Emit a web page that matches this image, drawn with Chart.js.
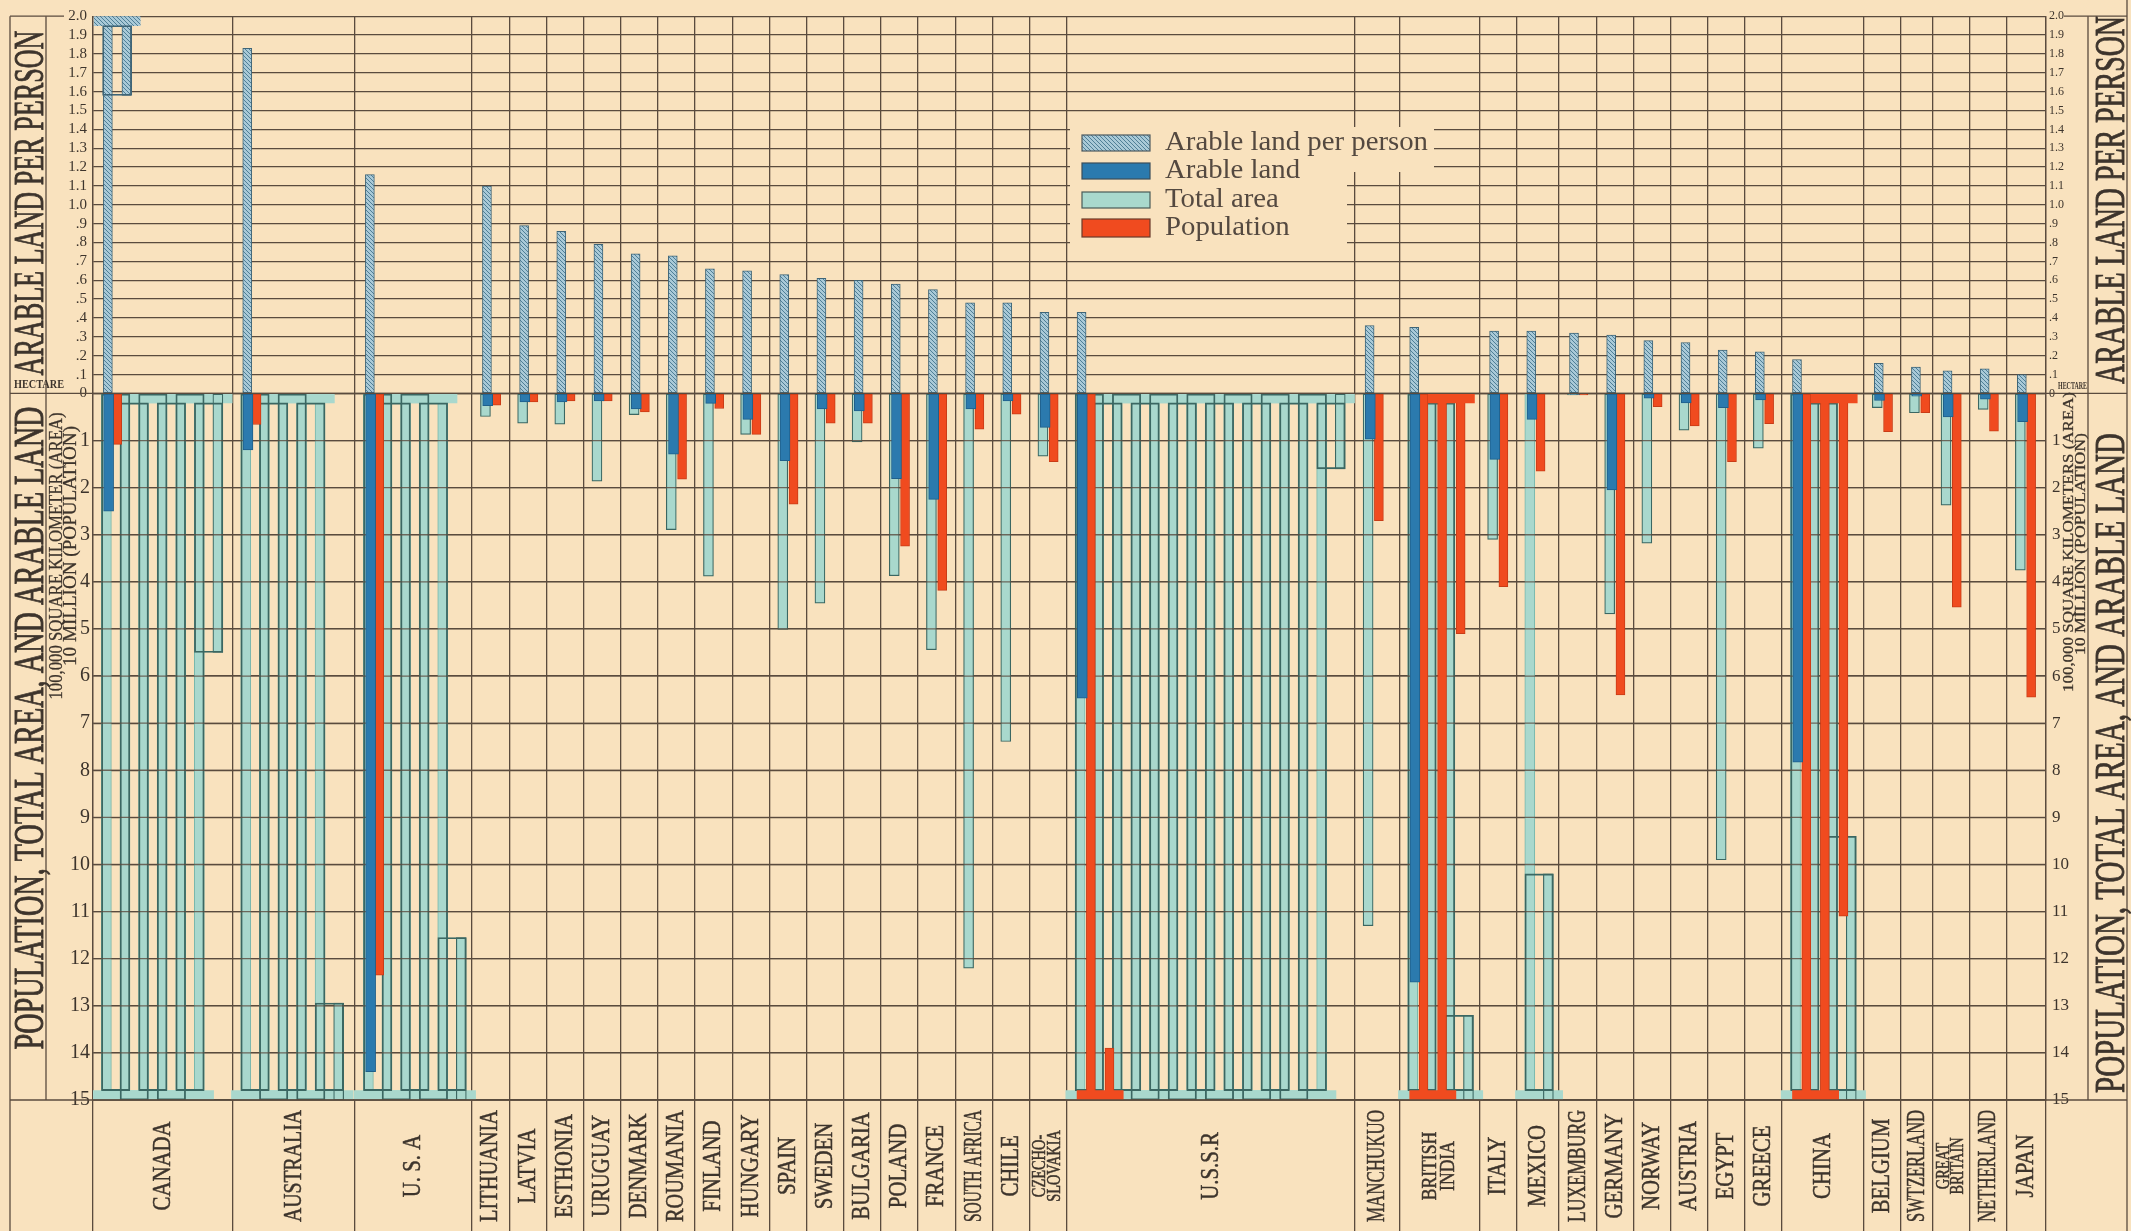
<!DOCTYPE html>
<html>
<head>
<meta charset="utf-8">
<title>Arable land per person, total area, arable land and population</title>
<script src="https://cdn.jsdelivr.net/npm/chart.js@4.4.1/dist/chart.umd.min.js"></script>
<style>
  html, body { margin: 0; padding: 0; background: #f9e2be; }
  #wrap { width: 2131px; height: 1231px; }
</style>
</head>
<body>
<div id="wrap"><canvas id="chart" width="2131" height="1231"></canvas></div>
<script>
'use strict';

// countries, left to right
let countries = [
    'CANADA', 'AUSTRALIA', 'U. S. A',
    'LITHUANIA', 'LATVIA', 'ESTHONIA', 'URUGUAY', 'DENMARK', 'ROUMANIA', 'FINLAND', 'HUNGARY',
    'SPAIN', 'SWEDEN', 'BULGARIA', 'POLAND', 'FRANCE', 'SOUTH AFRICA', 'CHILE', ['CZECHO-', 'SLOVAKIA'],
    'U.S.S.R', 'MANCHUKUO', ['BRITISH', 'INDIA'], 'ITALY', 'MEXICO', 'LUXEMBURG', 'GERMANY',
    'NORWAY', 'AUSTRIA', 'EGYPT', 'GREECE', 'CHINA', 'BELGIUM', 'SWTZERLAND', ['GREAT', 'BRITAIN'],
    'NETHERLAND', 'JAPAN'
];

// hectare per person
let arablePerPerson = [
    2.42, 1.83, 1.16,
    1.10, 0.89, 0.86, 0.79, 0.74, 0.73, 0.66, 0.65, 0.63, 0.61, 0.60, 0.58, 0.55, 0.48, 0.48, 0.43,
    0.43, 0.36, 0.35, 0.33, 0.33, 0.32, 0.31, 0.28, 0.27, 0.23, 0.22, 0.18, 0.16, 0.14, 0.12, 0.13, 0.10
];

// 100,000 square kilometers
let arableLand = [
    2.5, 1.2, 14.4,
    0.26, 0.18, 0.18, 0.16, 0.33, 1.29, 0.21, 0.55, 1.43, 0.33, 0.37, 1.81, 2.25, 0.33, 0.16, 0.72,
    6.47, 0.97, 12.5, 1.4, 0.55, 0.02, 2.05, 0.1, 0.2, 0.3, 0.14, 7.83, 0.15, 0.06, 0.5, 0.12, 0.6
];

// 100,000 square kilometers
let totalArea = [
    95.5, 77.06, 78.45,
    0.49, 0.63, 0.65, 1.86, 0.45, 2.89, 3.88, 0.87, 5.01, 4.45, 1.03, 3.87, 5.44, 12.2, 7.39, 1.33,
    211.6, 11.3, 46.8, 3.1, 19.8, 0.03, 4.68, 3.18, 0.78, 9.9, 1.16, 50.6, 0.3, 0.41, 2.37, 0.34, 3.75
];

// 10 million people
let population = [
    1.08, 0.66, 12.35,
    0.25, 0.18, 0.16, 0.16, 0.39, 1.82, 0.32, 0.87, 2.35, 0.63, 0.63, 3.24, 4.18, 0.76, 0.44, 1.45,
    16.1, 2.7, 35.1, 4.1, 1.65, 0.03, 6.4, 0.28, 0.69, 1.45, 0.64, 41.1, 0.81, 0.41, 4.54, 0.8, 6.45
];

// ---- layout -------------------------------------------------------------

// width of each country's column (one small country = 1)
let columnSpans = [
    3.75, 3.3, 3.15,
    1, 1, 1, 1, 1, 1, 1, 1, 1, 1, 1, 1, 1, 1, 1, 1,
    7.75, 1.2, 2.15, 1, 1.15, 1, 1, 1, 1, 1, 1, 2.2, 1, 0.85, 1, 1, 1.05
];

const FOLD = 15;      // lower scale turns back every 15 units
const TOP = 2.0;      // upper scale turns back at 2 hectare

const PAPER = '#f9e2be';
const GRID = '#5a4b3e';
const INK = '#3d342c';
const SERIF = '"Liberation Serif", "DejaVu Serif", serif';
const BLUE = '#2b7aae';
const TEAL = '#a9d8cd';
const RED = '#f04b1f';

let starts = [];
let total = 0;
for (let i = 0; i < columnSpans.length; i++) {
    starts.push(total);
    total += columnSpans[i];
}
let bounds = starts.concat([total]);
const HALF = (2046 - 93) / total / 2;   // pixel step between two folds

let ctx = document.getElementById('chart').getContext('2d');

function makeHatch(c) {
    let tile = document.createElement('canvas');
    tile.width = 4; tile.height = 4;
    let g = tile.getContext('2d');
    g.fillStyle = '#a9c9d7';
    g.fillRect(0, 0, 4, 4);
    g.strokeStyle = '#4f7f96';
    g.lineWidth = 1;
    g.beginPath();
    g.moveTo(-1, -1); g.lineTo(5, 5);
    g.moveTo(-1, 3); g.lineTo(1, 5);
    g.moveTo(3, -1); g.lineTo(5, 1);
    g.stroke();
    return c.createPattern(tile, 'repeat');
}
let hatch = makeHatch(ctx);

// split a value into folds of `limit`, alternating direction
function folds(value, limit) {
    let parts = [];
    let rest = value;
    let i = 0;
    while (rest > 1e-6) {
        let len = Math.min(limit, rest);
        parts.push(i % 2 === 0 ? [0, len] : [limit - len, limit]);
        rest -= len;
        i++;
    }
    return parts;
}

// strips, turning pieces and the gaps between strips
function snake(values, offset, limit, cap) {
    let out = { strips: [], ends: [], joints: [], gaps: [] };
    values.forEach(function (v, k) {
        let parts = folds(v, limit);
        let x0 = starts[k] + offset;
        parts.forEach(function (p, i) {
            let pt = { x: x0 + 0.5 * i, y: p };
            let last = i === parts.length - 1;
            if (last && (parts.length === 1 || p[1] - p[0] < limit)) {
                out.ends.push(pt);
            } else {
                out.strips.push(pt);
            }
            if (!last) {
                let far = i % 2 === 0;
                out.joints.push({ x: x0 + 0.5 * i + 0.25, y: far ? [limit - cap, limit] : [0, cap] });
                let next = parts[i + 1];
                let g = far ? [0, limit - cap] : [cap, limit];
                if (next[1] - next[0] < limit) {
                    g = far ? [next[0], limit - cap] : [cap, next[1]];
                }
                if (g[1] > g[0]) out.gaps.push({ x: x0 + 0.5 * i + 0.25, y: g });
            }
        });
    });
    return out;
}

let teal = snake(totalArea, 0.36, FOLD, 0.2);
let red = snake(population, 0.65, FOLD, 0.2);
let perPerson = snake(arablePerPerson, 0.40, TOP, 0.05);
let blue = arableLand.map(function (v, k) {
    return { x: starts[k] + 0.42, y: [0, v] };
});

function bars(label, data, axis, thickness, fill, border, width, order) {
    return {
        label: label,
        data: data,
        xAxisID: 'x',
        yAxisID: axis,
        stack: 'all',
        barThickness: thickness,
        backgroundColor: fill,
        borderColor: border,
        borderWidth: width,
        borderSkipped: false,
        order: order
    };
}

let datasets = [
    bars('per person gap', perPerson.gaps, 'yTop', 2 * HALF - 9 + 1, 'rgba(0,0,0,0)', '#3f6577', 1, 0),
    bars('per person turn', perPerson.joints, 'yTop', 9 + 2 * HALF, hatch, hatch, 0, 1),
    bars('Arable land per person', perPerson.strips.concat(perPerson.ends), 'yTop', 9, hatch, '#3f6577', 1, 2),
    bars('Arable land', blue, 'yBot', 10, BLUE, '#1f5f8a', 1, 3),
    bars('population turn', red.joints, 'yBot', 9 + 2 * HALF, RED, RED, 0, 4),
    bars('Population', red.strips.concat(red.ends), 'yBot', 9, RED, '#c93c17', 1, 5),
    bars('total area gap', teal.gaps, 'yBot', 2 * HALF - 10 + 1.2, 'rgba(0,0,0,0)', '#3b6762', 1.2, 6),
    bars('total area end', teal.ends, 'yBot', 10, TEAL, '#3b6762', 1.2, 7),
    bars('total area turn', teal.joints, 'yBot', 10 + 2 * HALF, TEAL, TEAL, 0, 8),
    bars('Total area', teal.strips, 'yBot', 10, TEAL, '#78b6ab', 1, 9)
];
const LAST_TEAL = 6;   // index of the last drawn total area dataset

// ---- text helpers ---------------------------------------------------------

// upright text reading bottom to top, baseline at x, centred on y, stretched to len
function sideText(c, text, x, y, size, len, bold) {
    c.save();
    c.translate(x, y);
    c.rotate(-Math.PI / 2);
    c.font = size + 'px ' + SERIF;
    c.textAlign = 'center';
    c.textBaseline = 'alphabetic';
    let w = c.measureText(text).width;
    c.scale(len / w, 1);
    c.fillText(text, 0, 0);
    if (bold) {
        c.lineWidth = bold;
        c.strokeStyle = c.fillStyle;
        c.strokeText(text, 0, 0);
    }
    c.restore();
}

function line(c, x1, y1, x2, y2) {
    c.beginPath();
    c.moveTo(x1, y1);
    c.lineTo(x2, y2);
    c.stroke();
}

let legendItems = [
    { text: 'Arable land per person', fill: hatch, border: '#4d5a60', y: 135, h: 16 },
    { text: 'Arable land', fill: BLUE, border: '#3a4d5a', y: 163, h: 16 },
    { text: 'Total area', fill: TEAL, border: '#4a5a58', y: 192, h: 16 },
    { text: 'Population', fill: RED, border: '#6a3a2a', y: 219, h: 18 }
];

let decor = {
    id: 'decor',
    beforeDraw: function (chart) {
        let c = chart.ctx;
        c.save();
        c.fillStyle = PAPER;
        c.fillRect(0, 0, chart.width, chart.height);
        c.restore();
    },
    beforeDatasetsDraw: function (chart) {
        // legend sits on a clear patch of paper
        let c = chart.ctx;
        c.save();
        c.fillStyle = PAPER;
        c.fillRect(1070, 127, 277, 128);
        c.fillRect(1346, 127, 88, 45);
        c.restore();
    },
    afterDatasetDraw: function (chart, args) {
        // the total area tint is printed under the ruling, so lines show through it
        if (args.index !== LAST_TEAL) return;
        let c = chart.ctx;
        let a = chart.chartArea;
        let ys = chart.scales.yBot;
        c.save();
        c.strokeStyle = 'rgba(90,75,62,0.8)';
        c.lineWidth = 1.3;
        for (let v = 0; v <= FOLD; v++) {
            let y = ys.getPixelForValue(v);
            line(c, a.left, y, a.right, y);
        }
        c.restore();
    },
    afterDraw: function (chart) {
        let c = chart.ctx;
        let a = chart.chartArea;
        let zero = chart.scales.yTop.getPixelForValue(0);
        let xs = chart.scales.x;

        c.save();
        c.strokeStyle = GRID;
        c.lineWidth = 1.3;
        line(c, a.left, zero, a.right, zero);
        line(c, a.left, a.bottom, a.right, a.bottom);
        line(c, 10, a.top, 10, 1231);
        line(c, 46, a.top, 46, a.bottom);
        line(c, 10, a.top, 64, a.top);
        line(c, 10, zero, a.left, zero);
        line(c, 10, a.bottom, a.left, a.bottom);
        line(c, 2088, a.top, 2088, a.bottom);
        line(c, 2127, 0, 2127, 1231);
        line(c, 2064, a.top, 2127, a.top);
        line(c, a.right, zero, 2127, zero);
        line(c, a.right, a.bottom, 2127, a.bottom);

        c.fillStyle = INK;
        sideText(c, 'ARABLE LAND PER PERSON', 43, 203, 42, 345, 0.9);
        sideText(c, 'POPULATION, TOTAL AREA, AND ARABLE LAND', 43, 728, 42, 643, 0.9);
        sideText(c, '100,000 SQUARE KILOMETER (AREA)', 62, 556, 19, 287, 0.3);
        sideText(c, '10 MILLION (POPULATION)', 76, 546, 19, 240, 0.3);
        sideText(c, 'ARABLE LAND PER PERSON', 2124, 200, 42, 368, 0.9);
        sideText(c, 'POPULATION, TOTAL AREA, AND ARABLE LAND', 2124, 763, 42, 660, 0.9);
        sideText(c, '100,000 SQUARE KILOMETERS (AREA)', 2073, 542, 15, 300, 0.3);
        sideText(c, '10 MILLION (POPULATION)', 2085, 544, 15, 222, 0.3);

        c.font = 'bold 12px ' + SERIF;
        c.textBaseline = 'alphabetic';
        c.textAlign = 'left';
        let hw = c.measureText('HECTARE').width;
        c.save(); c.translate(14, 388); c.scale(50 / hw, 1); c.fillText('HECTARE', 0, 0); c.restore();
        c.save(); c.translate(2058, 389); c.scale(29 / hw, 0.85); c.fillText('HECTARE', 0, 0); c.restore();

        // country names
        countries.forEach(function (name, k) {
            let lines = Array.isArray(name) ? name : [name];
            let size = lines.length > 1 ? (columnSpans[k] > 1.5 ? 22 : 18) : 26;
            let cx = xs.getPixelForValue(starts[k] + columnSpans[k] / 2);
            c.save();
            c.translate(cx, 1166);
            c.rotate(-Math.PI / 2);
            c.font = size + 'px ' + SERIF;
            c.textAlign = 'center';
            c.textBaseline = 'middle';
            c.strokeStyle = INK;
            c.lineWidth = 0.5;
            lines.forEach(function (t, i) {
                let dy = (i - (lines.length - 1) / 2) * (size * 0.82);
                let w = c.measureText(t).width;
                let sx = Math.min(0.8, 112 / w);
                c.save();
                c.scale(sx, 1);
                c.fillText(t, 0, dy);
                c.strokeText(t, 0, dy);
                c.restore();
            });
            c.restore();
        });

        // legend
        c.font = '27px ' + SERIF;
        c.textAlign = 'left';
        c.textBaseline = 'middle';
        let lsx = 263 / c.measureText(legendItems[0].text).width;
        legendItems.forEach(function (it) {
            c.fillStyle = it.fill;
            c.fillRect(1082, it.y, 68, it.h);
            c.strokeStyle = it.border;
            c.lineWidth = 1.2;
            c.strokeRect(1082, it.y, 68, it.h);
            c.fillStyle = '#544940';
            c.save();
            c.translate(1165, it.y + it.h / 2);
            c.scale(lsx, 1);
            c.fillText(it.text, 0, 0);
            c.restore();
        });
        c.restore();
    }
};

function tickList(n, step) {
    let list = [];
    for (let i = 0; i <= n; i++) list.push({ value: Math.round(i * step * 10) / 10 });
    return list;
}

function hectare(v) {
    if (v === 0) return '0';
    return v < 1 ? '.' + Math.round(v * 10) : v.toFixed(1);
}

let gridOpts = { color: GRID, lineWidth: 1.3, drawTicks: false };
let noGrid = { display: false, drawTicks: false };

let myChart = new Chart(ctx, {
    type: 'bar',
    data: { datasets: datasets },
    options: {
        responsive: false,
        animation: false,
        events: [],
        layout: { padding: { top: 14, right: 0, bottom: 0, left: 0 } },
        plugins: { legend: { display: false }, tooltip: { enabled: false } },
        scales: {
            x: {
                type: 'linear',
                min: 0,
                max: total,
                offset: false,
                stacked: true,
                afterBuildTicks: function (s) { s.ticks = bounds.map(function (v) { return { value: v }; }); },
                afterFit: function (s) { s.height = 131; },
                ticks: { display: false },
                grid: { color: GRID, lineWidth: 1.3, drawTicks: true, tickLength: 131, tickColor: GRID, offset: false },
                border: { color: GRID, width: 1.3 }
            },
            yBot: {
                type: 'linear', position: 'left', stack: 'left', stackWeight: 708,
                min: 0, max: FOLD, reverse: true, stacked: false,
                afterBuildTicks: function (s) { s.ticks = tickList(15, 1); },
                afterFit: function (s) { s.width = 93; },
                ticks: {
                    autoSkip: false, padding: 3, color: INK, font: { family: SERIF, size: 20 },
                    callback: function (v) { return v === 0 ? '' : String(v); }
                },
                grid: gridOpts,
                border: { color: GRID, width: 1.3 }
            },
            yTop: {
                type: 'linear', position: 'left', stack: 'left', stackWeight: 378,
                min: 0, max: TOP, stacked: false,
                afterBuildTicks: function (s) { s.ticks = tickList(20, 0.1); },
                afterFit: function (s) { s.width = 93; },
                ticks: {
                    autoSkip: false, padding: 6, color: INK, font: { family: SERIF, size: 15 },
                    callback: hectare
                },
                grid: gridOpts,
                border: { color: GRID, width: 1.3 }
            },
            yTopR: {
                type: 'linear', position: 'right', stack: 'right', stackWeight: 378,
                min: 0, max: TOP, stacked: false,
                afterBuildTicks: function (s) { s.ticks = tickList(20, 0.1); },
                afterFit: function (s) { s.width = 85; },
                ticks: {
                    autoSkip: false, padding: 3, color: INK, font: { family: SERIF, size: 12 },
                    callback: hectare
                },
                grid: noGrid,
                border: { color: GRID, width: 1.3 }
            },
            yBotR: {
                type: 'linear', position: 'right', stack: 'right', stackWeight: 708,
                min: 0, max: FOLD, reverse: true, stacked: false,
                afterBuildTicks: function (s) { s.ticks = tickList(15, 1); },
                afterFit: function (s) { s.width = 85; },
                ticks: {
                    autoSkip: false, padding: 6, color: INK, font: { family: SERIF, size: 17 },
                    callback: function (v) { return v === 0 ? '' : String(v); }
                },
                grid: noGrid,
                border: { color: GRID, width: 1.3 }
            }
        }
    },
    plugins: [decor]
});
</script>
</body>
</html>
